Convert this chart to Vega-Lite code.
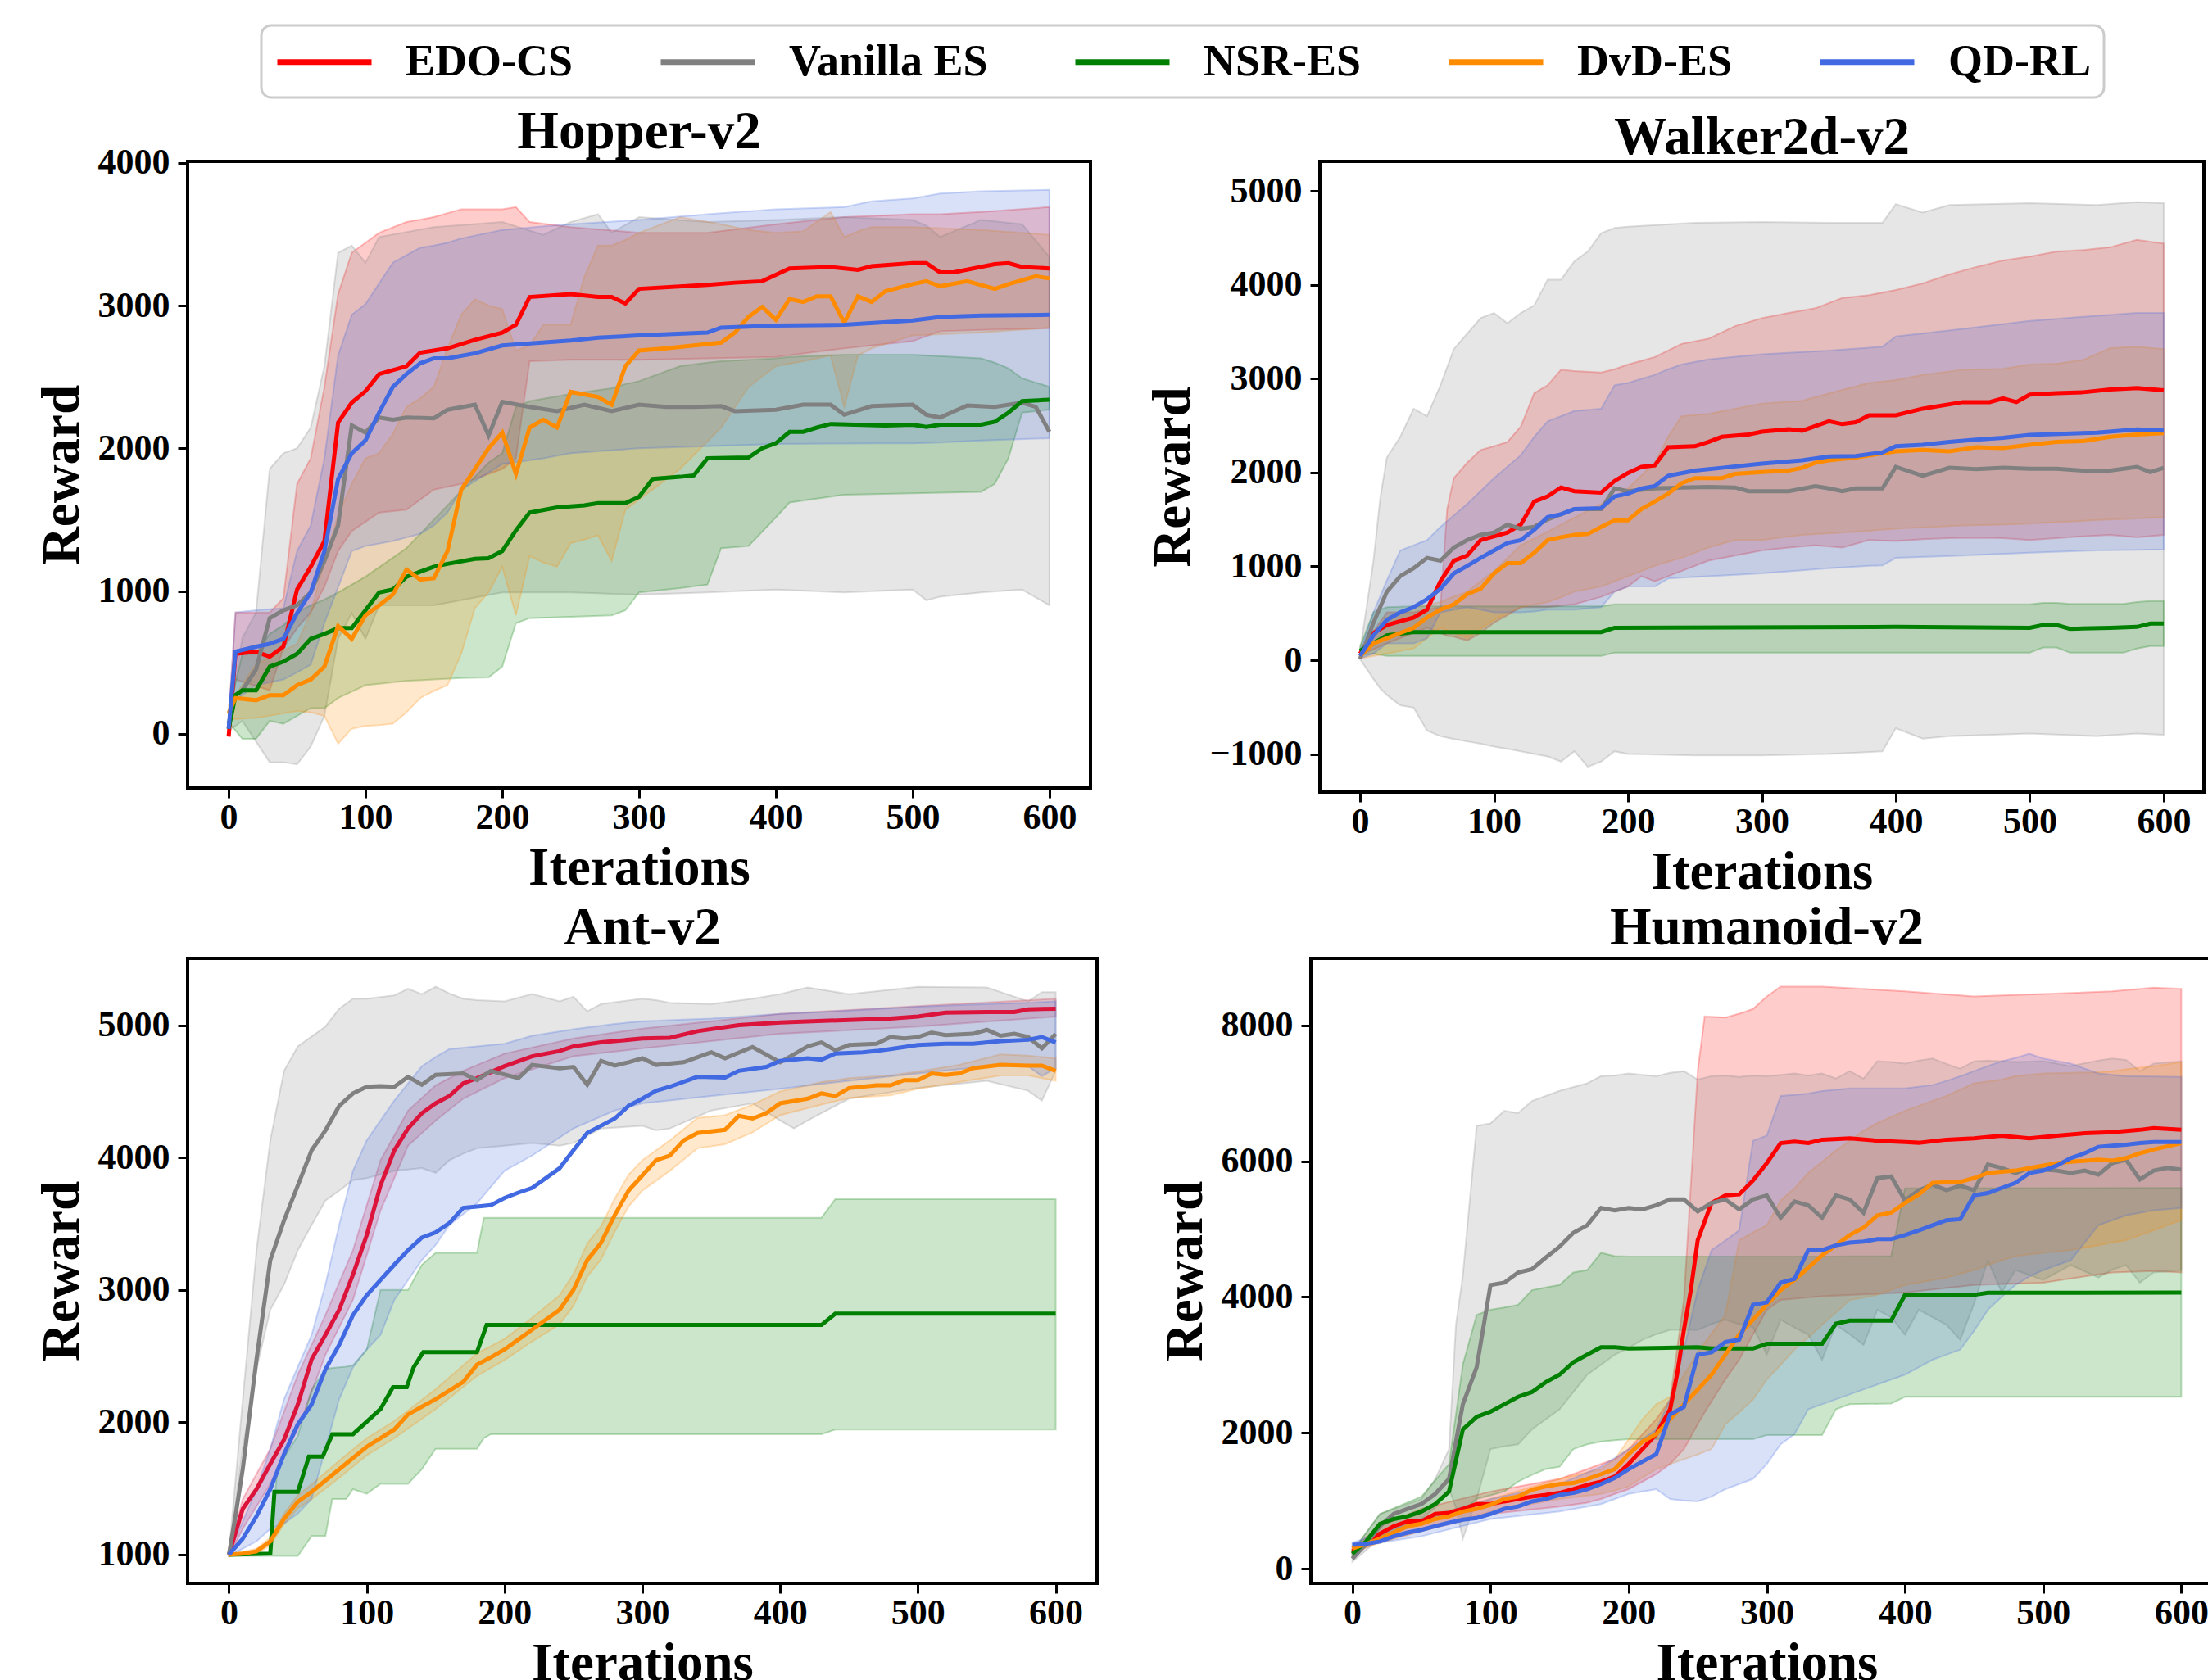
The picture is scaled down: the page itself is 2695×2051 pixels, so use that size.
{
"$schema": "https://vega.github.io/schema/vega-lite/v6.json",
"background": "white",
"padding": {"left": 41, "top": 29, "right": 0, "bottom": 0},
"config": {
 "font": "Liberation Serif",
 "view": {"stroke": "black", "strokeWidth": 4},
 "axis": {"domain": false, "grid": false, "ticks": true, "tickColor": "black", "tickWidth": 3, "tickSize": 12, "labelFont": "Liberation Serif", "labelFontSize": 44, "labelFontWeight": "bold", "labelColor": "black", "labelOverlap": false, "labelFlush": false, "titleFont": "Liberation Serif", "titleFontSize": 65, "titleFontWeight": "bold", "titleColor": "black"},
 "axisX": {"labelPadding": 2, "titlePadding": 8},
 "axisY": {"labelPadding": 10, "titlePadding": 10},
 "legend": {"strokeWidth": 3},
 "title": {"font": "Liberation Serif", "fontSize": 65, "fontWeight": "bold", "color": "black", "baseline": "bottom", "frame": "group", "anchor": "middle"}
},
"datasets": {
"hl": [
{"s":"E","x":0,"y":-20},{"s":"E","x":5,"y":560},{"s":"E","x":20,"y":575},{"s":"E","x":30,"y":540},{"s":"E","x":40,"y":610},{"s":"E","x":50,"y":1010},{"s":"E","x":60,"y":1170},{"s":"E","x":70,"y":1350},{"s":"E","x":80,"y":2180},{"s":"E","x":90,"y":2320},{"s":"E","x":100,"y":2400},{"s":"E","x":110,"y":2520},{"s":"E","x":130,"y":2575},{"s":"E","x":140,"y":2670},{"s":"E","x":160,"y":2700},{"s":"E","x":180,"y":2760},{"s":"E","x":200,"y":2810},{"s":"E","x":210,"y":2865},{"s":"E","x":220,"y":3060},{"s":"E","x":250,"y":3080},{"s":"E","x":270,"y":3060},{"s":"E","x":280,"y":3060},{"s":"E","x":290,"y":3015},{"s":"E","x":300,"y":3117},{"s":"E","x":350,"y":3145},{"s":"E","x":370,"y":3160},{"s":"E","x":390,"y":3170},{"s":"E","x":410,"y":3260},{"s":"E","x":440,"y":3270},{"s":"E","x":460,"y":3250},{"s":"E","x":470,"y":3275},{"s":"E","x":500,"y":3297},{"s":"E","x":510,"y":3297},{"s":"E","x":520,"y":3232},{"s":"E","x":530,"y":3232},{"s":"E","x":560,"y":3290},{"s":"E","x":570,"y":3297},{"s":"E","x":580,"y":3270},{"s":"E","x":600,"y":3260},
{"s":"V","x":0,"y":70},{"s":"V","x":5,"y":270},{"s":"V","x":10,"y":305},{"s":"V","x":20,"y":450},{"s":"V","x":30,"y":810},{"s":"V","x":40,"y":865},{"s":"V","x":50,"y":900},{"s":"V","x":60,"y":990},{"s":"V","x":70,"y":1210},{"s":"V","x":80,"y":1460},{"s":"V","x":90,"y":2160},{"s":"V","x":100,"y":2110},{"s":"V","x":110,"y":2215},{"s":"V","x":120,"y":2200},{"s":"V","x":130,"y":2215},{"s":"V","x":150,"y":2210},{"s":"V","x":160,"y":2270},{"s":"V","x":180,"y":2305},{"s":"V","x":190,"y":2090},{"s":"V","x":200,"y":2325},{"s":"V","x":220,"y":2290},{"s":"V","x":240,"y":2260},{"s":"V","x":260,"y":2305},{"s":"V","x":280,"y":2260},{"s":"V","x":300,"y":2305},{"s":"V","x":320,"y":2290},{"s":"V","x":340,"y":2290},{"s":"V","x":360,"y":2295},{"s":"V","x":370,"y":2260},{"s":"V","x":400,"y":2270},{"s":"V","x":420,"y":2305},{"s":"V","x":440,"y":2305},{"s":"V","x":450,"y":2235},{"s":"V","x":470,"y":2295},{"s":"V","x":500,"y":2305},{"s":"V","x":510,"y":2235},{"s":"V","x":520,"y":2215},{"s":"V","x":540,"y":2300},{"s":"V","x":560,"y":2290},{"s":"V","x":580,"y":2320},{"s":"V","x":590,"y":2290},{"s":"V","x":600,"y":2115},
{"s":"N","x":0,"y":35},{"s":"N","x":5,"y":270},{"s":"N","x":10,"y":305},{"s":"N","x":20,"y":305},{"s":"N","x":30,"y":470},{"s":"N","x":40,"y":505},{"s":"N","x":50,"y":560},{"s":"N","x":60,"y":665},{"s":"N","x":70,"y":700},{"s":"N","x":80,"y":740},{"s":"N","x":90,"y":740},{"s":"N","x":100,"y":865},{"s":"N","x":110,"y":990},{"s":"N","x":120,"y":1010},{"s":"N","x":130,"y":1100},{"s":"N","x":150,"y":1170},{"s":"N","x":160,"y":1190},{"s":"N","x":180,"y":1225},{"s":"N","x":190,"y":1230},{"s":"N","x":200,"y":1280},{"s":"N","x":210,"y":1425},{"s":"N","x":220,"y":1550},{"s":"N","x":240,"y":1585},{"s":"N","x":260,"y":1600},{"s":"N","x":270,"y":1615},{"s":"N","x":290,"y":1615},{"s":"N","x":300,"y":1660},{"s":"N","x":310,"y":1785},{"s":"N","x":330,"y":1800},{"s":"N","x":340,"y":1810},{"s":"N","x":350,"y":1930},{"s":"N","x":380,"y":1935},{"s":"N","x":390,"y":2000},{"s":"N","x":400,"y":2035},{"s":"N","x":410,"y":2115},{"s":"N","x":420,"y":2115},{"s":"N","x":430,"y":2145},{"s":"N","x":440,"y":2170},{"s":"N","x":480,"y":2160},{"s":"N","x":500,"y":2165},{"s":"N","x":510,"y":2150},{"s":"N","x":520,"y":2165},{"s":"N","x":550,"y":2165},{"s":"N","x":560,"y":2185},{"s":"N","x":570,"y":2250},{"s":"N","x":580,"y":2330},{"s":"N","x":600,"y":2340},
{"s":"D","x":0,"y":145},{"s":"D","x":5,"y":250},{"s":"D","x":20,"y":235},{"s":"D","x":30,"y":270},{"s":"D","x":40,"y":270},{"s":"D","x":50,"y":340},{"s":"D","x":60,"y":380},{"s":"D","x":70,"y":470},{"s":"D","x":80,"y":755},{"s":"D","x":90,"y":665},{"s":"D","x":100,"y":830},{"s":"D","x":110,"y":900},{"s":"D","x":120,"y":975},{"s":"D","x":130,"y":1150},{"s":"D","x":140,"y":1080},{"s":"D","x":150,"y":1090},{"s":"D","x":160,"y":1280},{"s":"D","x":170,"y":1710},{"s":"D","x":180,"y":1855},{"s":"D","x":190,"y":2000},{"s":"D","x":200,"y":2110},{"s":"D","x":210,"y":1820},{"s":"D","x":220,"y":2145},{"s":"D","x":230,"y":2200},{"s":"D","x":240,"y":2145},{"s":"D","x":250,"y":2395},{"s":"D","x":270,"y":2360},{"s":"D","x":280,"y":2305},{"s":"D","x":290,"y":2575},{"s":"D","x":300,"y":2685},{"s":"D","x":320,"y":2700},{"s":"D","x":340,"y":2720},{"s":"D","x":360,"y":2740},{"s":"D","x":370,"y":2810},{"s":"D","x":380,"y":2920},{"s":"D","x":390,"y":2990},{"s":"D","x":400,"y":2900},{"s":"D","x":410,"y":3045},{"s":"D","x":420,"y":3025},{"s":"D","x":430,"y":3065},{"s":"D","x":440,"y":3065},{"s":"D","x":450,"y":2880},{"s":"D","x":460,"y":3065},{"s":"D","x":470,"y":3025},{"s":"D","x":480,"y":3100},{"s":"D","x":500,"y":3150},{"s":"D","x":510,"y":3170},{"s":"D","x":520,"y":3135},{"s":"D","x":540,"y":3170},{"s":"D","x":560,"y":3117},{"s":"D","x":570,"y":3150},{"s":"D","x":590,"y":3205},{"s":"D","x":600,"y":3190},
{"s":"Q","x":0,"y":35},{"s":"Q","x":5,"y":575},{"s":"Q","x":20,"y":610},{"s":"Q","x":30,"y":630},{"s":"Q","x":40,"y":665},{"s":"Q","x":50,"y":845},{"s":"Q","x":60,"y":990},{"s":"Q","x":70,"y":1280},{"s":"Q","x":80,"y":1785},{"s":"Q","x":90,"y":1965},{"s":"Q","x":100,"y":2055},{"s":"Q","x":110,"y":2250},{"s":"Q","x":120,"y":2430},{"s":"Q","x":130,"y":2520},{"s":"Q","x":140,"y":2595},{"s":"Q","x":150,"y":2630},{"s":"Q","x":160,"y":2630},{"s":"Q","x":180,"y":2665},{"s":"Q","x":200,"y":2720},{"s":"Q","x":250,"y":2755},{"s":"Q","x":270,"y":2775},{"s":"Q","x":300,"y":2790},{"s":"Q","x":350,"y":2810},{"s":"Q","x":360,"y":2845},{"s":"Q","x":400,"y":2860},{"s":"Q","x":450,"y":2865},{"s":"Q","x":500,"y":2895},{"s":"Q","x":520,"y":2920},{"s":"Q","x":550,"y":2930},{"s":"Q","x":600,"y":2935}
],
"hb": [
{"s":"E","x":0,"l":-20,"h":100},{"s":"E","x":5,"l":380,"h":850},{"s":"E","x":30,"l":305,"h":850},{"s":"E","x":40,"l":600,"h":950},{"s":"E","x":50,"l":740,"h":1750},{"s":"E","x":60,"l":850,"h":1930},{"s":"E","x":70,"l":1030,"h":2430},{"s":"E","x":80,"l":1280,"h":3080},{"s":"E","x":90,"l":1420,"h":3370},{"s":"E","x":110,"l":1550,"h":3510},{"s":"E","x":130,"l":1570,"h":3585},{"s":"E","x":150,"l":1710,"h":3620},{"s":"E","x":170,"l":1750,"h":3675},{"s":"E","x":200,"l":1855,"h":3675},{"s":"E","x":210,"l":1930,"h":3690},{"s":"E","x":220,"l":2610,"h":3585},{"s":"E","x":250,"l":2620,"h":3550},{"s":"E","x":300,"l":2620,"h":3510},{"s":"E","x":350,"l":2630,"h":3510},{"s":"E","x":400,"l":2640,"h":3570},{"s":"E","x":450,"l":2700,"h":3620},{"s":"E","x":500,"l":2750,"h":3640},{"s":"E","x":520,"l":2820,"h":3640},{"s":"E","x":550,"l":2830,"h":3655},{"s":"E","x":600,"l":2840,"h":3690},
{"s":"V","x":0,"l":20,"h":100},{"s":"V","x":10,"l":90,"h":670},{"s":"V","x":20,"l":-55,"h":850},{"s":"V","x":30,"l":-200,"h":1855},{"s":"V","x":40,"l":-200,"h":1965},{"s":"V","x":50,"l":-215,"h":2000},{"s":"V","x":60,"l":-90,"h":2145},{"s":"V","x":70,"l":125,"h":2575},{"s":"V","x":80,"l":665,"h":3370},{"s":"V","x":90,"l":845,"h":3420},{"s":"V","x":100,"l":665,"h":3300},{"s":"V","x":110,"l":900,"h":3480},{"s":"V","x":150,"l":900,"h":3550},{"s":"V","x":200,"l":990,"h":3585},{"s":"V","x":230,"l":990,"h":3495},{"s":"V","x":250,"l":990,"h":3585},{"s":"V","x":270,"l":985,"h":3640},{"s":"V","x":280,"l":980,"h":3510},{"s":"V","x":300,"l":975,"h":3620},{"s":"V","x":350,"l":990,"h":3585},{"s":"V","x":400,"l":1010,"h":3600},{"s":"V","x":450,"l":990,"h":3620},{"s":"V","x":500,"l":1010,"h":3600},{"s":"V","x":510,"l":935,"h":3560},{"s":"V","x":520,"l":960,"h":3480},{"s":"V","x":550,"l":990,"h":3600},{"s":"V","x":580,"l":1010,"h":3570},{"s":"V","x":600,"l":900,"h":3340},
{"s":"N","x":0,"l":80,"h":150},{"s":"N","x":10,"l":-35,"h":560},{"s":"N","x":20,"l":-35,"h":560},{"s":"N","x":30,"l":90,"h":700},{"s":"N","x":40,"l":70,"h":760},{"s":"N","x":50,"l":125,"h":850},{"s":"N","x":60,"l":180,"h":900},{"s":"N","x":70,"l":180,"h":940},{"s":"N","x":80,"l":250,"h":990},{"s":"N","x":100,"l":340,"h":1100},{"s":"N","x":130,"l":370,"h":1300},{"s":"N","x":150,"l":380,"h":1500},{"s":"N","x":170,"l":390,"h":1700},{"s":"N","x":190,"l":395,"h":1900},{"s":"N","x":200,"l":470,"h":1965},{"s":"N","x":210,"l":775,"h":2290},{"s":"N","x":220,"l":810,"h":2330},{"s":"N","x":250,"l":820,"h":2380},{"s":"N","x":280,"l":830,"h":2420},{"s":"N","x":290,"l":865,"h":2450},{"s":"N","x":300,"l":990,"h":2470},{"s":"N","x":330,"l":1020,"h":2575},{"s":"N","x":350,"l":1045,"h":2600},{"s":"N","x":360,"l":1300,"h":2610},{"s":"N","x":380,"l":1315,"h":2620},{"s":"N","x":400,"l":1515,"h":2630},{"s":"N","x":410,"l":1620,"h":2640},{"s":"N","x":450,"l":1675,"h":2655},{"s":"N","x":500,"l":1685,"h":2655},{"s":"N","x":550,"l":1695,"h":2630},{"s":"N","x":560,"l":1750,"h":2600},{"s":"N","x":570,"l":1930,"h":2560},{"s":"N","x":580,"l":2250,"h":2490},{"s":"N","x":600,"l":2270,"h":2430},
{"s":"D","x":0,"l":100,"h":200},{"s":"D","x":20,"l":110,"h":485},{"s":"D","x":50,"l":160,"h":630},{"s":"D","x":60,"l":150,"h":850},{"s":"D","x":70,"l":125,"h":1210},{"s":"D","x":80,"l":-70,"h":1530},{"s":"D","x":90,"l":35,"h":1750},{"s":"D","x":100,"l":55,"h":1930},{"s":"D","x":110,"l":60,"h":1965},{"s":"D","x":120,"l":70,"h":2100},{"s":"D","x":130,"l":150,"h":2290},{"s":"D","x":140,"l":250,"h":2350},{"s":"D","x":150,"l":300,"h":2430},{"s":"D","x":160,"l":340,"h":2700},{"s":"D","x":170,"l":560,"h":2935},{"s":"D","x":180,"l":880,"h":3045},{"s":"D","x":190,"l":990,"h":3000},{"s":"D","x":200,"l":1170,"h":2975},{"s":"D","x":210,"l":830,"h":2685},{"s":"D","x":220,"l":1245,"h":2720},{"s":"D","x":230,"l":1200,"h":2865},{"s":"D","x":240,"l":1170,"h":2865},{"s":"D","x":250,"l":1335,"h":2865},{"s":"D","x":260,"l":1360,"h":3200},{"s":"D","x":270,"l":1390,"h":3420},{"s":"D","x":280,"l":1210,"h":3420},{"s":"D","x":290,"l":1570,"h":3460},{"s":"D","x":300,"l":1640,"h":3510},{"s":"D","x":330,"l":1855,"h":3620},{"s":"D","x":360,"l":2145,"h":3570},{"s":"D","x":380,"l":2430,"h":3530},{"s":"D","x":400,"l":2575,"h":3510},{"s":"D","x":420,"l":2610,"h":3520},{"s":"D","x":440,"l":2650,"h":3655},{"s":"D","x":450,"l":2290,"h":3480},{"s":"D","x":460,"l":2650,"h":3520},{"s":"D","x":470,"l":2700,"h":3550},{"s":"D","x":500,"l":2790,"h":3550},{"s":"D","x":550,"l":2810,"h":3530},{"s":"D","x":600,"l":2845,"h":3495},
{"s":"Q","x":0,"l":0,"h":100},{"s":"Q","x":5,"l":235,"h":850},{"s":"Q","x":20,"l":340,"h":865},{"s":"Q","x":40,"l":380,"h":880},{"s":"Q","x":50,"l":430,"h":1280},{"s":"Q","x":60,"l":485,"h":1460},{"s":"Q","x":70,"l":775,"h":1930},{"s":"Q","x":80,"l":1025,"h":2650},{"s":"Q","x":90,"l":1280,"h":2935},{"s":"Q","x":100,"l":1315,"h":3010},{"s":"Q","x":120,"l":1350,"h":3300},{"s":"Q","x":140,"l":1400,"h":3405},{"s":"Q","x":150,"l":1460,"h":3420},{"s":"Q","x":160,"l":1550,"h":3440},{"s":"Q","x":170,"l":1710,"h":3470},{"s":"Q","x":200,"l":1890,"h":3530},{"s":"Q","x":230,"l":1930,"h":3555},{"s":"Q","x":250,"l":1965,"h":3570},{"s":"Q","x":300,"l":2000,"h":3600},{"s":"Q","x":350,"l":2015,"h":3640},{"s":"Q","x":400,"l":2030,"h":3675},{"s":"Q","x":450,"l":2033,"h":3690},{"s":"Q","x":470,"l":2034,"h":3730},{"s":"Q","x":500,"l":2035,"h":3750},{"s":"Q","x":520,"l":2040,"h":3785},{"s":"Q","x":550,"l":2055,"h":3800},{"s":"Q","x":600,"l":2070,"h":3810}
],
"wl": [
{"s":"E","x":0,"y":70},{"s":"E","x":10,"y":290},{"s":"E","x":20,"y":375},{"s":"E","x":40,"y":455},{"s":"E","x":50,"y":540},{"s":"E","x":60,"y":840},{"s":"E","x":70,"y":1060},{"s":"E","x":80,"y":1115},{"s":"E","x":90,"y":1280},{"s":"E","x":110,"y":1360},{"s":"E","x":120,"y":1445},{"s":"E","x":130,"y":1690},{"s":"E","x":140,"y":1745},{"s":"E","x":150,"y":1840},{"s":"E","x":160,"y":1800},{"s":"E","x":180,"y":1785},{"s":"E","x":190,"y":1910},{"s":"E","x":200,"y":1995},{"s":"E","x":210,"y":2060},{"s":"E","x":220,"y":2075},{"s":"E","x":230,"y":2270},{"s":"E","x":250,"y":2280},{"s":"E","x":260,"y":2325},{"s":"E","x":270,"y":2380},{"s":"E","x":290,"y":2405},{"s":"E","x":300,"y":2435},{"s":"E","x":320,"y":2460},{"s":"E","x":330,"y":2445},{"s":"E","x":350,"y":2545},{"s":"E","x":360,"y":2515},{"s":"E","x":370,"y":2535},{"s":"E","x":380,"y":2610},{"s":"E","x":400,"y":2610},{"s":"E","x":420,"y":2680},{"s":"E","x":450,"y":2750},{"s":"E","x":470,"y":2750},{"s":"E","x":480,"y":2790},{"s":"E","x":490,"y":2750},{"s":"E","x":500,"y":2830},{"s":"E","x":520,"y":2845},{"s":"E","x":540,"y":2855},{"s":"E","x":560,"y":2885},{"s":"E","x":580,"y":2900},{"s":"E","x":600,"y":2875},
{"s":"V","x":0,"y":15},{"s":"V","x":10,"y":400},{"s":"V","x":20,"y":730},{"s":"V","x":30,"y":895},{"s":"V","x":40,"y":980},{"s":"V","x":50,"y":1090},{"s":"V","x":60,"y":1060},{"s":"V","x":70,"y":1200},{"s":"V","x":80,"y":1280},{"s":"V","x":90,"y":1335},{"s":"V","x":100,"y":1360},{"s":"V","x":110,"y":1445},{"s":"V","x":120,"y":1400},{"s":"V","x":130,"y":1420},{"s":"V","x":140,"y":1500},{"s":"V","x":160,"y":1610},{"s":"V","x":180,"y":1610},{"s":"V","x":190,"y":1830},{"s":"V","x":200,"y":1800},{"s":"V","x":220,"y":1830},{"s":"V","x":240,"y":1840},{"s":"V","x":260,"y":1845},{"s":"V","x":280,"y":1840},{"s":"V","x":290,"y":1800},{"s":"V","x":320,"y":1800},{"s":"V","x":340,"y":1855},{"s":"V","x":350,"y":1830},{"s":"V","x":360,"y":1800},{"s":"V","x":370,"y":1830},{"s":"V","x":390,"y":1830},{"s":"V","x":400,"y":2060},{"s":"V","x":420,"y":1965},{"s":"V","x":440,"y":2050},{"s":"V","x":460,"y":2035},{"s":"V","x":480,"y":2050},{"s":"V","x":500,"y":2040},{"s":"V","x":520,"y":2040},{"s":"V","x":540,"y":2020},{"s":"V","x":560,"y":2020},{"s":"V","x":580,"y":2060},{"s":"V","x":590,"y":2005},{"s":"V","x":600,"y":2050},
{"s":"N","x":0,"y":100},{"s":"N","x":10,"y":180},{"s":"N","x":20,"y":265},{"s":"N","x":40,"y":300},{"s":"N","x":180,"y":300},{"s":"N","x":190,"y":345},{"s":"N","x":400,"y":355},{"s":"N","x":500,"y":345},{"s":"N","x":510,"y":375},{"s":"N","x":520,"y":375},{"s":"N","x":530,"y":335},{"s":"N","x":560,"y":345},{"s":"N","x":580,"y":355},{"s":"N","x":590,"y":390},{"s":"N","x":600,"y":390},
{"s":"D","x":0,"y":45},{"s":"D","x":10,"y":180},{"s":"D","x":20,"y":235},{"s":"D","x":30,"y":290},{"s":"D","x":40,"y":345},{"s":"D","x":50,"y":455},{"s":"D","x":60,"y":540},{"s":"D","x":70,"y":595},{"s":"D","x":80,"y":705},{"s":"D","x":90,"y":760},{"s":"D","x":100,"y":925},{"s":"D","x":110,"y":1035},{"s":"D","x":120,"y":1035},{"s":"D","x":130,"y":1145},{"s":"D","x":140,"y":1280},{"s":"D","x":150,"y":1310},{"s":"D","x":160,"y":1335},{"s":"D","x":170,"y":1345},{"s":"D","x":180,"y":1420},{"s":"D","x":190,"y":1490},{"s":"D","x":200,"y":1490},{"s":"D","x":210,"y":1610},{"s":"D","x":220,"y":1690},{"s":"D","x":230,"y":1775},{"s":"D","x":240,"y":1885},{"s":"D","x":250,"y":1940},{"s":"D","x":270,"y":1940},{"s":"D","x":280,"y":1985},{"s":"D","x":300,"y":2005},{"s":"D","x":320,"y":2020},{"s":"D","x":330,"y":2050},{"s":"D","x":340,"y":2105},{"s":"D","x":350,"y":2130},{"s":"D","x":370,"y":2160},{"s":"D","x":400,"y":2225},{"s":"D","x":420,"y":2240},{"s":"D","x":440,"y":2225},{"s":"D","x":460,"y":2270},{"s":"D","x":480,"y":2260},{"s":"D","x":500,"y":2295},{"s":"D","x":520,"y":2325},{"s":"D","x":540,"y":2335},{"s":"D","x":560,"y":2380},{"s":"D","x":580,"y":2405},{"s":"D","x":600,"y":2420},
{"s":"Q","x":0,"y":45},{"s":"Q","x":10,"y":265},{"s":"Q","x":20,"y":430},{"s":"Q","x":30,"y":510},{"s":"Q","x":40,"y":565},{"s":"Q","x":50,"y":650},{"s":"Q","x":60,"y":760},{"s":"Q","x":70,"y":925},{"s":"Q","x":80,"y":1005},{"s":"Q","x":90,"y":1090},{"s":"Q","x":100,"y":1170},{"s":"Q","x":110,"y":1250},{"s":"Q","x":120,"y":1280},{"s":"Q","x":130,"y":1390},{"s":"Q","x":140,"y":1525},{"s":"Q","x":150,"y":1555},{"s":"Q","x":160,"y":1610},{"s":"Q","x":180,"y":1620},{"s":"Q","x":190,"y":1745},{"s":"Q","x":200,"y":1775},{"s":"Q","x":210,"y":1830},{"s":"Q","x":220,"y":1855},{"s":"Q","x":230,"y":1965},{"s":"Q","x":250,"y":2020},{"s":"Q","x":270,"y":2050},{"s":"Q","x":300,"y":2095},{"s":"Q","x":330,"y":2130},{"s":"Q","x":350,"y":2170},{"s":"Q","x":370,"y":2175},{"s":"Q","x":390,"y":2215},{"s":"Q","x":400,"y":2280},{"s":"Q","x":420,"y":2295},{"s":"Q","x":440,"y":2325},{"s":"Q","x":460,"y":2350},{"s":"Q","x":480,"y":2370},{"s":"Q","x":500,"y":2400},{"s":"Q","x":550,"y":2425},{"s":"Q","x":580,"y":2460},{"s":"Q","x":600,"y":2445}
],
"wb": [
{"s":"E","x":0,"l":50,"h":100},{"s":"E","x":20,"l":180,"h":510},{"s":"E","x":40,"l":290,"h":510},{"s":"E","x":50,"l":345,"h":540},{"s":"E","x":60,"l":290,"h":565},{"s":"E","x":65,"l":260,"h":1610},{"s":"E","x":70,"l":250,"h":1940},{"s":"E","x":80,"l":210,"h":2105},{"s":"E","x":90,"l":290,"h":2240},{"s":"E","x":100,"l":400,"h":2280},{"s":"E","x":110,"l":480,"h":2325},{"s":"E","x":120,"l":565,"h":2490},{"s":"E","x":130,"l":565,"h":2845},{"s":"E","x":140,"l":565,"h":2930},{"s":"E","x":150,"l":580,"h":3095},{"s":"E","x":160,"l":595,"h":3080},{"s":"E","x":180,"l":675,"h":3065},{"s":"E","x":190,"l":730,"h":3100},{"s":"E","x":200,"l":785,"h":3150},{"s":"E","x":210,"l":895,"h":3190},{"s":"E","x":220,"l":840,"h":3230},{"s":"E","x":240,"l":950,"h":3370},{"s":"E","x":260,"l":1060,"h":3425},{"s":"E","x":280,"l":1115,"h":3560},{"s":"E","x":300,"l":1170,"h":3645},{"s":"E","x":320,"l":1200,"h":3700},{"s":"E","x":340,"l":1225,"h":3750},{"s":"E","x":360,"l":1200,"h":3860},{"s":"E","x":380,"l":1280,"h":3890},{"s":"E","x":400,"l":1270,"h":3945},{"s":"E","x":420,"l":1290,"h":4015},{"s":"E","x":440,"l":1300,"h":4110},{"s":"E","x":460,"l":1305,"h":4190},{"s":"E","x":480,"l":1300,"h":4260},{"s":"E","x":500,"l":1280,"h":4300},{"s":"E","x":520,"l":1300,"h":4355},{"s":"E","x":540,"l":1320,"h":4370},{"s":"E","x":560,"l":1335,"h":4400},{"s":"E","x":580,"l":1310,"h":4480},{"s":"E","x":600,"l":1335,"h":4440},
{"s":"V","x":0,"l":10,"h":100},{"s":"V","x":10,"l":-200,"h":1060},{"s":"V","x":15,"l":-300,"h":1720},{"s":"V","x":20,"l":-370,"h":2160},{"s":"V","x":30,"l":-480,"h":2380},{"s":"V","x":40,"l":-505,"h":2680},{"s":"V","x":50,"l":-750,"h":2600},{"s":"V","x":60,"l":-810,"h":2930},{"s":"V","x":70,"l":-840,"h":3315},{"s":"V","x":80,"l":-865,"h":3480},{"s":"V","x":90,"l":-890,"h":3645},{"s":"V","x":100,"l":-920,"h":3700},{"s":"V","x":110,"l":-945,"h":3590},{"s":"V","x":120,"l":-970,"h":3700},{"s":"V","x":130,"l":-1000,"h":3780},{"s":"V","x":140,"l":-1025,"h":4055},{"s":"V","x":150,"l":-1080,"h":4055},{"s":"V","x":160,"l":-970,"h":4250},{"s":"V","x":170,"l":-1135,"h":4355},{"s":"V","x":180,"l":-1080,"h":4550},{"s":"V","x":190,"l":-970,"h":4605},{"s":"V","x":200,"l":-1000,"h":4620},{"s":"V","x":250,"l":-1015,"h":4660},{"s":"V","x":300,"l":-1015,"h":4670},{"s":"V","x":350,"l":-1000,"h":4660},{"s":"V","x":390,"l":-970,"h":4660},{"s":"V","x":400,"l":-725,"h":4860},{"s":"V","x":420,"l":-835,"h":4770},{"s":"V","x":440,"l":-810,"h":4850},{"s":"V","x":500,"l":-780,"h":4870},{"s":"V","x":550,"l":-810,"h":4850},{"s":"V","x":580,"l":-780,"h":4880},{"s":"V","x":600,"l":-795,"h":4870},
{"s":"N","x":0,"l":50,"h":150},{"s":"N","x":10,"l":70,"h":510},{"s":"N","x":20,"l":45,"h":565},{"s":"N","x":40,"l":45,"h":575},{"s":"N","x":180,"l":45,"h":575},{"s":"N","x":190,"l":80,"h":595},{"s":"N","x":500,"l":80,"h":595},{"s":"N","x":510,"l":135,"h":610},{"s":"N","x":520,"l":135,"h":610},{"s":"N","x":530,"l":80,"h":600},{"s":"N","x":570,"l":80,"h":600},{"s":"N","x":580,"l":125,"h":620},{"s":"N","x":590,"l":150,"h":630},{"s":"N","x":600,"l":150,"h":630},
{"s":"D","x":0,"l":20,"h":100},{"s":"D","x":20,"l":70,"h":455},{"s":"D","x":40,"l":125,"h":565},{"s":"D","x":60,"l":345,"h":620},{"s":"D","x":70,"l":290,"h":680},{"s":"D","x":80,"l":235,"h":730},{"s":"D","x":100,"l":430,"h":950},{"s":"D","x":120,"l":565,"h":1225},{"s":"D","x":140,"l":620,"h":1370},{"s":"D","x":150,"l":670,"h":1445},{"s":"D","x":160,"l":730,"h":1520},{"s":"D","x":180,"l":785,"h":1665},{"s":"D","x":200,"l":895,"h":1830},{"s":"D","x":220,"l":1005,"h":2105},{"s":"D","x":230,"l":1050,"h":2380},{"s":"D","x":240,"l":1090,"h":2600},{"s":"D","x":260,"l":1200,"h":2625},{"s":"D","x":280,"l":1280,"h":2680},{"s":"D","x":300,"l":1280,"h":2735},{"s":"D","x":330,"l":1335,"h":2765},{"s":"D","x":360,"l":1360,"h":2880},{"s":"D","x":380,"l":1380,"h":2955},{"s":"D","x":400,"l":1400,"h":2985},{"s":"D","x":420,"l":1415,"h":3040},{"s":"D","x":450,"l":1435,"h":3095},{"s":"D","x":480,"l":1445,"h":3105},{"s":"D","x":500,"l":1455,"h":3150},{"s":"D","x":520,"l":1470,"h":3160},{"s":"D","x":540,"l":1485,"h":3200},{"s":"D","x":560,"l":1500,"h":3325},{"s":"D","x":580,"l":1510,"h":3340},{"s":"D","x":600,"l":1525,"h":3315},
{"s":"Q","x":0,"l":20,"h":100},{"s":"Q","x":10,"l":70,"h":510},{"s":"Q","x":20,"l":180,"h":850},{"s":"Q","x":30,"l":180,"h":1170},{"s":"Q","x":40,"l":180,"h":1225},{"s":"Q","x":50,"l":235,"h":1280},{"s":"Q","x":60,"l":510,"h":1420},{"s":"Q","x":80,"l":565,"h":1665},{"s":"Q","x":100,"l":510,"h":1940},{"s":"Q","x":120,"l":510,"h":2185},{"s":"Q","x":130,"l":520,"h":2380},{"s":"Q","x":140,"l":540,"h":2545},{"s":"Q","x":160,"l":540,"h":2655},{"s":"Q","x":180,"l":565,"h":2680},{"s":"Q","x":190,"l":730,"h":2930},{"s":"Q","x":200,"l":785,"h":2955},{"s":"Q","x":220,"l":785,"h":3040},{"s":"Q","x":230,"l":870,"h":3100},{"s":"Q","x":240,"l":880,"h":3150},{"s":"Q","x":260,"l":895,"h":3205},{"s":"Q","x":300,"l":925,"h":3260},{"s":"Q","x":350,"l":980,"h":3300},{"s":"Q","x":380,"l":1005,"h":3330},{"s":"Q","x":390,"l":1010,"h":3340},{"s":"Q","x":400,"l":1090,"h":3450},{"s":"Q","x":450,"l":1115,"h":3530},{"s":"Q","x":500,"l":1145,"h":3615},{"s":"Q","x":550,"l":1170,"h":3670},{"s":"Q","x":580,"l":1175,"h":3700},{"s":"Q","x":600,"l":1180,"h":3700}
],
"al": [
{"s":"A","x":0,"y":1000},{"s":"A","x":10,"y":1345},{"s":"A","x":20,"y":1495},{"s":"A","x":30,"y":1685},{"s":"A","x":40,"y":1870},{"s":"A","x":50,"y":2135},{"s":"A","x":60,"y":2475},{"s":"A","x":70,"y":2660},{"s":"A","x":80,"y":2850},{"s":"A","x":90,"y":3115},{"s":"A","x":100,"y":3415},{"s":"A","x":110,"y":3790},{"s":"A","x":120,"y":4055},{"s":"A","x":130,"y":4220},{"s":"A","x":140,"y":4335},{"s":"A","x":150,"y":4410},{"s":"A","x":160,"y":4465},{"s":"A","x":170,"y":4560},{"s":"A","x":180,"y":4600},{"s":"A","x":200,"y":4690},{"s":"A","x":220,"y":4765},{"s":"A","x":240,"y":4805},{"s":"A","x":250,"y":4840},{"s":"A","x":270,"y":4870},{"s":"A","x":300,"y":4900},{"s":"A","x":320,"y":4905},{"s":"A","x":340,"y":4955},{"s":"A","x":370,"y":5000},{"s":"A","x":400,"y":5020},{"s":"A","x":450,"y":5040},{"s":"A","x":480,"y":5050},{"s":"A","x":500,"y":5065},{"s":"A","x":520,"y":5095},{"s":"A","x":550,"y":5100},{"s":"A","x":570,"y":5100},{"s":"A","x":580,"y":5120},{"s":"A","x":600,"y":5125},
{"s":"V","x":0,"y":1000},{"s":"V","x":5,"y":1310},{"s":"V","x":10,"y":1645},{"s":"V","x":20,"y":2475},{"s":"V","x":30,"y":3225},{"s":"V","x":40,"y":3525},{"s":"V","x":50,"y":3790},{"s":"V","x":60,"y":4055},{"s":"V","x":70,"y":4205},{"s":"V","x":80,"y":4390},{"s":"V","x":90,"y":4485},{"s":"V","x":100,"y":4535},{"s":"V","x":110,"y":4540},{"s":"V","x":120,"y":4535},{"s":"V","x":130,"y":4610},{"s":"V","x":140,"y":4550},{"s":"V","x":150,"y":4625},{"s":"V","x":170,"y":4635},{"s":"V","x":180,"y":4585},{"s":"V","x":190,"y":4655},{"s":"V","x":210,"y":4600},{"s":"V","x":220,"y":4700},{"s":"V","x":240,"y":4675},{"s":"V","x":250,"y":4685},{"s":"V","x":260,"y":4550},{"s":"V","x":270,"y":4730},{"s":"V","x":280,"y":4695},{"s":"V","x":290,"y":4720},{"s":"V","x":300,"y":4750},{"s":"V","x":310,"y":4700},{"s":"V","x":330,"y":4720},{"s":"V","x":350,"y":4795},{"s":"V","x":360,"y":4750},{"s":"V","x":380,"y":4835},{"s":"V","x":400,"y":4720},{"s":"V","x":420,"y":4840},{"s":"V","x":430,"y":4870},{"s":"V","x":440,"y":4810},{"s":"V","x":450,"y":4850},{"s":"V","x":470,"y":4860},{"s":"V","x":480,"y":4910},{"s":"V","x":490,"y":4900},{"s":"V","x":500,"y":4910},{"s":"V","x":510,"y":4945},{"s":"V","x":520,"y":4925},{"s":"V","x":540,"y":4935},{"s":"V","x":550,"y":4965},{"s":"V","x":560,"y":4920},{"s":"V","x":570,"y":4935},{"s":"V","x":580,"y":4910},{"s":"V","x":590,"y":4825},{"s":"V","x":600,"y":4935},
{"s":"N","x":0,"y":1000},{"s":"N","x":30,"y":1008},{"s":"N","x":33,"y":1475},{"s":"N","x":50,"y":1475},{"s":"N","x":58,"y":1740},{"s":"N","x":68,"y":1740},{"s":"N","x":75,"y":1910},{"s":"N","x":90,"y":1910},{"s":"N","x":100,"y":2005},{"s":"N","x":110,"y":2100},{"s":"N","x":119,"y":2265},{"s":"N","x":129,"y":2265},{"s":"N","x":134,"y":2415},{"s":"N","x":141,"y":2530},{"s":"N","x":180,"y":2530},{"s":"N","x":187,"y":2735},{"s":"N","x":430,"y":2735},{"s":"N","x":440,"y":2820},{"s":"N","x":600,"y":2820},
{"s":"D","x":0,"y":1000},{"s":"D","x":10,"y":1008},{"s":"D","x":20,"y":1025},{"s":"D","x":30,"y":1100},{"s":"D","x":40,"y":1270},{"s":"D","x":50,"y":1400},{"s":"D","x":60,"y":1475},{"s":"D","x":80,"y":1645},{"s":"D","x":100,"y":1815},{"s":"D","x":120,"y":1945},{"s":"D","x":130,"y":2060},{"s":"D","x":150,"y":2175},{"s":"D","x":170,"y":2305},{"s":"D","x":180,"y":2435},{"s":"D","x":190,"y":2490},{"s":"D","x":200,"y":2550},{"s":"D","x":210,"y":2625},{"s":"D","x":220,"y":2700},{"s":"D","x":240,"y":2850},{"s":"D","x":250,"y":3000},{"s":"D","x":260,"y":3225},{"s":"D","x":270,"y":3355},{"s":"D","x":280,"y":3565},{"s":"D","x":290,"y":3750},{"s":"D","x":300,"y":3865},{"s":"D","x":310,"y":3980},{"s":"D","x":320,"y":4015},{"s":"D","x":330,"y":4130},{"s":"D","x":340,"y":4185},{"s":"D","x":360,"y":4210},{"s":"D","x":370,"y":4315},{"s":"D","x":380,"y":4295},{"s":"D","x":390,"y":4335},{"s":"D","x":400,"y":4410},{"s":"D","x":420,"y":4445},{"s":"D","x":430,"y":4485},{"s":"D","x":440,"y":4465},{"s":"D","x":450,"y":4525},{"s":"D","x":470,"y":4545},{"s":"D","x":480,"y":4545},{"s":"D","x":490,"y":4585},{"s":"D","x":500,"y":4585},{"s":"D","x":510,"y":4635},{"s":"D","x":520,"y":4625},{"s":"D","x":530,"y":4635},{"s":"D","x":540,"y":4675},{"s":"D","x":560,"y":4700},{"s":"D","x":580,"y":4695},{"s":"D","x":590,"y":4695},{"s":"D","x":600,"y":4655},
{"s":"Q","x":0,"y":1000},{"s":"Q","x":10,"y":1120},{"s":"Q","x":20,"y":1290},{"s":"Q","x":30,"y":1495},{"s":"Q","x":40,"y":1760},{"s":"Q","x":50,"y":1985},{"s":"Q","x":60,"y":2135},{"s":"Q","x":70,"y":2400},{"s":"Q","x":80,"y":2585},{"s":"Q","x":90,"y":2810},{"s":"Q","x":100,"y":2960},{"s":"Q","x":110,"y":3075},{"s":"Q","x":120,"y":3190},{"s":"Q","x":130,"y":3300},{"s":"Q","x":140,"y":3395},{"s":"Q","x":150,"y":3435},{"s":"Q","x":160,"y":3505},{"s":"Q","x":170,"y":3620},{"s":"Q","x":180,"y":3630},{"s":"Q","x":190,"y":3640},{"s":"Q","x":200,"y":3695},{"s":"Q","x":210,"y":3735},{"s":"Q","x":220,"y":3770},{"s":"Q","x":240,"y":3920},{"s":"Q","x":250,"y":4055},{"s":"Q","x":260,"y":4185},{"s":"Q","x":270,"y":4240},{"s":"Q","x":280,"y":4295},{"s":"Q","x":290,"y":4390},{"s":"Q","x":300,"y":4445},{"s":"Q","x":310,"y":4505},{"s":"Q","x":320,"y":4535},{"s":"Q","x":340,"y":4610},{"s":"Q","x":360,"y":4605},{"s":"Q","x":370,"y":4655},{"s":"Q","x":390,"y":4685},{"s":"Q","x":400,"y":4730},{"s":"Q","x":420,"y":4750},{"s":"Q","x":430,"y":4740},{"s":"Q","x":440,"y":4785},{"s":"Q","x":460,"y":4795},{"s":"Q","x":470,"y":4805},{"s":"Q","x":480,"y":4820},{"s":"Q","x":500,"y":4850},{"s":"Q","x":520,"y":4860},{"s":"Q","x":540,"y":4860},{"s":"Q","x":560,"y":4880},{"s":"Q","x":580,"y":4890},{"s":"Q","x":590,"y":4910},{"s":"Q","x":600,"y":4870}
],
"ab": [
{"s":"A","x":0,"l":980,"h":1040},{"s":"A","x":10,"l":1195,"h":1420},{"s":"A","x":30,"l":1535,"h":1800},{"s":"A","x":50,"l":1945,"h":2360},{"s":"A","x":70,"l":2510,"h":2810},{"s":"A","x":90,"l":2925,"h":3300},{"s":"A","x":110,"l":3600,"h":3980},{"s":"A","x":130,"l":4090,"h":4355},{"s":"A","x":150,"l":4280,"h":4545},{"s":"A","x":170,"l":4445,"h":4655},{"s":"A","x":200,"l":4600,"h":4785},{"s":"A","x":250,"l":4765,"h":4900},{"s":"A","x":300,"l":4825,"h":4975},{"s":"A","x":400,"l":4935,"h":5085},{"s":"A","x":500,"l":4990,"h":5145},{"s":"A","x":600,"l":5065,"h":5200},
{"s":"V","x":0,"l":990,"h":1010},{"s":"V","x":10,"l":1800,"h":2170},{"s":"V","x":20,"l":2400,"h":3300},{"s":"V","x":30,"l":2850,"h":4130},{"s":"V","x":40,"l":3040,"h":4655},{"s":"V","x":50,"l":3300,"h":4840},{"s":"V","x":60,"l":3490,"h":4915},{"s":"V","x":70,"l":3675,"h":4990},{"s":"V","x":80,"l":3750,"h":5125},{"s":"V","x":90,"l":3830,"h":5200},{"s":"V","x":100,"l":3845,"h":5200},{"s":"V","x":120,"l":3900,"h":5225},{"s":"V","x":130,"l":3910,"h":5275},{"s":"V","x":140,"l":3920,"h":5235},{"s":"V","x":150,"l":3885,"h":5290},{"s":"V","x":160,"l":3980,"h":5240},{"s":"V","x":170,"l":4030,"h":5200},{"s":"V","x":180,"l":4070,"h":5190},{"s":"V","x":200,"l":4090,"h":5180},{"s":"V","x":220,"l":4110,"h":5235},{"s":"V","x":240,"l":4090,"h":5180},{"s":"V","x":250,"l":4110,"h":5215},{"s":"V","x":260,"l":4165,"h":5105},{"s":"V","x":270,"l":4220,"h":5160},{"s":"V","x":300,"l":4240,"h":5200},{"s":"V","x":310,"l":4205,"h":5190},{"s":"V","x":320,"l":4220,"h":5170},{"s":"V","x":350,"l":4355,"h":5160},{"s":"V","x":380,"l":4410,"h":5200},{"s":"V","x":400,"l":4280,"h":5235},{"s":"V","x":410,"l":4220,"h":5260},{"s":"V","x":420,"l":4280,"h":5285},{"s":"V","x":450,"l":4445,"h":5235},{"s":"V","x":500,"l":4525,"h":5290},{"s":"V","x":550,"l":4580,"h":5285},{"s":"V","x":580,"l":4505,"h":5180},{"s":"V","x":590,"l":4430,"h":5250},{"s":"V","x":600,"l":4655,"h":5250},
{"s":"N","x":0,"l":990,"h":1010},{"s":"N","x":30,"l":990,"h":1008},{"s":"N","x":35,"l":990,"h":1650},{"s":"N","x":50,"l":990,"h":1900},{"s":"N","x":60,"l":1140,"h":2250},{"s":"N","x":70,"l":1140,"h":2400},{"s":"N","x":75,"l":1420,"h":2410},{"s":"N","x":85,"l":1420,"h":2420},{"s":"N","x":90,"l":1495,"h":2430},{"s":"N","x":100,"l":1460,"h":2550},{"s":"N","x":110,"l":1535,"h":3000},{"s":"N","x":130,"l":1535,"h":3000},{"s":"N","x":140,"l":1645,"h":3190},{"s":"N","x":150,"l":1800,"h":3280},{"s":"N","x":180,"l":1800,"h":3280},{"s":"N","x":185,"l":1880,"h":3545},{"s":"N","x":190,"l":1910,"h":3545},{"s":"N","x":430,"l":1910,"h":3545},{"s":"N","x":440,"l":1945,"h":3685},{"s":"N","x":600,"l":1945,"h":3685},
{"s":"D","x":0,"l":990,"h":1010},{"s":"D","x":10,"l":995,"h":1020},{"s":"D","x":20,"l":1005,"h":1045},{"s":"D","x":30,"l":1070,"h":1130},{"s":"D","x":40,"l":1230,"h":1310},{"s":"D","x":50,"l":1350,"h":1450},{"s":"D","x":60,"l":1420,"h":1530},{"s":"D","x":80,"l":1580,"h":1710},{"s":"D","x":100,"l":1750,"h":1880},{"s":"D","x":120,"l":1880,"h":2010},{"s":"D","x":150,"l":2100,"h":2250},{"s":"D","x":180,"l":2350,"h":2520},{"s":"D","x":200,"l":2470,"h":2630},{"s":"D","x":220,"l":2610,"h":2790},{"s":"D","x":240,"l":2740,"h":2960},{"s":"D","x":250,"l":2880,"h":3120},{"s":"D","x":260,"l":3100,"h":3350},{"s":"D","x":270,"l":3230,"h":3480},{"s":"D","x":280,"l":3440,"h":3690},{"s":"D","x":290,"l":3630,"h":3870},{"s":"D","x":300,"l":3750,"h":3980},{"s":"D","x":320,"l":3900,"h":4130},{"s":"D","x":340,"l":4070,"h":4300},{"s":"D","x":360,"l":4100,"h":4320},{"s":"D","x":380,"l":4190,"h":4400},{"s":"D","x":400,"l":4320,"h":4500},{"s":"D","x":430,"l":4400,"h":4570},{"s":"D","x":450,"l":4450,"h":4600},{"s":"D","x":480,"l":4470,"h":4620},{"s":"D","x":500,"l":4520,"h":4650},{"s":"D","x":530,"l":4570,"h":4700},{"s":"D","x":560,"l":4620,"h":4780},{"s":"D","x":580,"l":4620,"h":4770},{"s":"D","x":600,"l":4580,"h":4750},
{"s":"Q","x":0,"l":990,"h":1020},{"s":"Q","x":10,"l":1045,"h":1250},{"s":"Q","x":20,"l":1100,"h":1495},{"s":"Q","x":30,"l":1195,"h":1800},{"s":"Q","x":40,"l":1235,"h":2175},{"s":"Q","x":50,"l":1310,"h":2420},{"s":"Q","x":60,"l":1420,"h":2660},{"s":"Q","x":70,"l":1800,"h":3040},{"s":"Q","x":80,"l":2175,"h":3490},{"s":"Q","x":90,"l":2415,"h":3900},{"s":"Q","x":100,"l":2550,"h":4130},{"s":"Q","x":110,"l":2660,"h":4280},{"s":"Q","x":120,"l":2925,"h":4430},{"s":"Q","x":140,"l":3225,"h":4690},{"s":"Q","x":150,"l":3340,"h":4760},{"s":"Q","x":160,"l":3490,"h":4820},{"s":"Q","x":180,"l":3655,"h":4840},{"s":"Q","x":200,"l":3900,"h":4860},{"s":"Q","x":220,"l":4015,"h":4920},{"s":"Q","x":250,"l":4220,"h":4970},{"s":"Q","x":280,"l":4355,"h":5010},{"s":"Q","x":300,"l":4410,"h":5030},{"s":"Q","x":350,"l":4465,"h":5050},{"s":"Q","x":400,"l":4520,"h":5085},{"s":"Q","x":450,"l":4580,"h":5110},{"s":"Q","x":500,"l":4635,"h":5140},{"s":"Q","x":550,"l":4690,"h":5160},{"s":"Q","x":580,"l":4690,"h":5170},{"s":"Q","x":590,"l":4615,"h":5175},{"s":"Q","x":600,"l":4675,"h":5180}
],
"ul": [
{"s":"E","x":0,"y":255},{"s":"E","x":10,"y":365},{"s":"E","x":20,"y":515},{"s":"E","x":30,"y":625},{"s":"E","x":40,"y":695},{"s":"E","x":50,"y":695},{"s":"E","x":60,"y":805},{"s":"E","x":70,"y":820},{"s":"E","x":80,"y":880},{"s":"E","x":90,"y":950},{"s":"E","x":100,"y":950},{"s":"E","x":110,"y":990},{"s":"E","x":120,"y":1025},{"s":"E","x":130,"y":1060},{"s":"E","x":140,"y":1085},{"s":"E","x":150,"y":1115},{"s":"E","x":160,"y":1170},{"s":"E","x":170,"y":1230},{"s":"E","x":180,"y":1280},{"s":"E","x":190,"y":1355},{"s":"E","x":200,"y":1540},{"s":"E","x":210,"y":1760},{"s":"E","x":220,"y":1980},{"s":"E","x":230,"y":2345},{"s":"E","x":235,"y":2855},{"s":"E","x":240,"y":3515},{"s":"E","x":245,"y":4100},{"s":"E","x":250,"y":4835},{"s":"E","x":260,"y":5385},{"s":"E","x":270,"y":5495},{"s":"E","x":280,"y":5510},{"s":"E","x":290,"y":5715},{"s":"E","x":300,"y":5970},{"s":"E","x":310,"y":6265},{"s":"E","x":320,"y":6285},{"s":"E","x":330,"y":6265},{"s":"E","x":340,"y":6315},{"s":"E","x":360,"y":6335},{"s":"E","x":380,"y":6300},{"s":"E","x":400,"y":6280},{"s":"E","x":410,"y":6270},{"s":"E","x":430,"y":6315},{"s":"E","x":450,"y":6335},{"s":"E","x":470,"y":6375},{"s":"E","x":490,"y":6335},{"s":"E","x":510,"y":6375},{"s":"E","x":530,"y":6410},{"s":"E","x":550,"y":6425},{"s":"E","x":570,"y":6460},{"s":"E","x":580,"y":6485},{"s":"E","x":600,"y":6460},
{"s":"V","x":0,"y":145},{"s":"V","x":10,"y":365},{"s":"V","x":20,"y":625},{"s":"V","x":30,"y":805},{"s":"V","x":40,"y":880},{"s":"V","x":50,"y":950},{"s":"V","x":60,"y":1100},{"s":"V","x":70,"y":1320},{"s":"V","x":80,"y":2420},{"s":"V","x":90,"y":2965},{"s":"V","x":100,"y":4175},{"s":"V","x":110,"y":4210},{"s":"V","x":120,"y":4360},{"s":"V","x":130,"y":4410},{"s":"V","x":140,"y":4580},{"s":"V","x":150,"y":4740},{"s":"V","x":160,"y":4945},{"s":"V","x":170,"y":5055},{"s":"V","x":180,"y":5310},{"s":"V","x":190,"y":5275},{"s":"V","x":200,"y":5310},{"s":"V","x":210,"y":5290},{"s":"V","x":220,"y":5350},{"s":"V","x":230,"y":5435},{"s":"V","x":240,"y":5435},{"s":"V","x":250,"y":5260},{"s":"V","x":260,"y":5385},{"s":"V","x":270,"y":5435},{"s":"V","x":280,"y":5290},{"s":"V","x":290,"y":5435},{"s":"V","x":300,"y":5495},{"s":"V","x":310,"y":5165},{"s":"V","x":320,"y":5405},{"s":"V","x":330,"y":5350},{"s":"V","x":340,"y":5165},{"s":"V","x":350,"y":5495},{"s":"V","x":360,"y":5435},{"s":"V","x":370,"y":5240},{"s":"V","x":380,"y":5750},{"s":"V","x":390,"y":5775},{"s":"V","x":400,"y":5420},{"s":"V","x":410,"y":5570},{"s":"V","x":420,"y":5655},{"s":"V","x":430,"y":5570},{"s":"V","x":440,"y":5640},{"s":"V","x":450,"y":5570},{"s":"V","x":460,"y":5950},{"s":"V","x":470,"y":5900},{"s":"V","x":480,"y":5825},{"s":"V","x":490,"y":5900},{"s":"V","x":500,"y":5875},{"s":"V","x":510,"y":5860},{"s":"V","x":520,"y":5825},{"s":"V","x":530,"y":5860},{"s":"V","x":540,"y":5800},{"s":"V","x":550,"y":5970},{"s":"V","x":560,"y":6020},{"s":"V","x":570,"y":5730},{"s":"V","x":580,"y":5860},{"s":"V","x":590,"y":5900},{"s":"V","x":600,"y":5875},
{"s":"N","x":0,"y":220},{"s":"N","x":10,"y":400},{"s":"N","x":20,"y":660},{"s":"N","x":30,"y":730},{"s":"N","x":40,"y":770},{"s":"N","x":50,"y":840},{"s":"N","x":60,"y":950},{"s":"N","x":70,"y":1135},{"s":"N","x":80,"y":2050},{"s":"N","x":90,"y":2235},{"s":"N","x":100,"y":2310},{"s":"N","x":110,"y":2420},{"s":"N","x":120,"y":2530},{"s":"N","x":130,"y":2600},{"s":"N","x":140,"y":2745},{"s":"N","x":150,"y":2855},{"s":"N","x":160,"y":3040},{"s":"N","x":170,"y":3150},{"s":"N","x":180,"y":3260},{"s":"N","x":190,"y":3260},{"s":"N","x":200,"y":3240},{"s":"N","x":250,"y":3260},{"s":"N","x":260,"y":3240},{"s":"N","x":290,"y":3240},{"s":"N","x":300,"y":3310},{"s":"N","x":340,"y":3310},{"s":"N","x":350,"y":3605},{"s":"N","x":360,"y":3650},{"s":"N","x":390,"y":3650},{"s":"N","x":400,"y":4030},{"s":"N","x":450,"y":4030},{"s":"N","x":460,"y":4060},{"s":"N","x":600,"y":4065},
{"s":"D","x":0,"y":295},{"s":"D","x":10,"y":365},{"s":"D","x":20,"y":440},{"s":"D","x":30,"y":530},{"s":"D","x":40,"y":625},{"s":"D","x":50,"y":660},{"s":"D","x":60,"y":730},{"s":"D","x":70,"y":770},{"s":"D","x":80,"y":840},{"s":"D","x":90,"y":880},{"s":"D","x":100,"y":940},{"s":"D","x":110,"y":1025},{"s":"D","x":120,"y":1060},{"s":"D","x":130,"y":1160},{"s":"D","x":140,"y":1210},{"s":"D","x":150,"y":1245},{"s":"D","x":160,"y":1260},{"s":"D","x":170,"y":1320},{"s":"D","x":180,"y":1390},{"s":"D","x":190,"y":1465},{"s":"D","x":200,"y":1685},{"s":"D","x":210,"y":1870},{"s":"D","x":220,"y":1980},{"s":"D","x":230,"y":2200},{"s":"D","x":240,"y":2420},{"s":"D","x":250,"y":2635},{"s":"D","x":260,"y":2855},{"s":"D","x":270,"y":3150},{"s":"D","x":280,"y":3445},{"s":"D","x":290,"y":3665},{"s":"D","x":300,"y":3885},{"s":"D","x":310,"y":4100},{"s":"D","x":320,"y":4250},{"s":"D","x":330,"y":4430},{"s":"D","x":340,"y":4615},{"s":"D","x":350,"y":4760},{"s":"D","x":360,"y":4910},{"s":"D","x":370,"y":5020},{"s":"D","x":380,"y":5200},{"s":"D","x":390,"y":5240},{"s":"D","x":400,"y":5385},{"s":"D","x":410,"y":5510},{"s":"D","x":420,"y":5680},{"s":"D","x":440,"y":5695},{"s":"D","x":450,"y":5750},{"s":"D","x":460,"y":5825},{"s":"D","x":480,"y":5860},{"s":"D","x":500,"y":5935},{"s":"D","x":510,"y":5970},{"s":"D","x":520,"y":5990},{"s":"D","x":540,"y":6020},{"s":"D","x":550,"y":6005},{"s":"D","x":560,"y":6045},{"s":"D","x":570,"y":6115},{"s":"D","x":580,"y":6170},{"s":"D","x":600,"y":6265},
{"s":"Q","x":0,"y":350},{"s":"Q","x":10,"y":365},{"s":"Q","x":20,"y":400},{"s":"Q","x":30,"y":475},{"s":"Q","x":40,"y":530},{"s":"Q","x":50,"y":570},{"s":"Q","x":60,"y":625},{"s":"Q","x":70,"y":675},{"s":"Q","x":80,"y":720},{"s":"Q","x":90,"y":745},{"s":"Q","x":100,"y":805},{"s":"Q","x":110,"y":880},{"s":"Q","x":120,"y":915},{"s":"Q","x":130,"y":990},{"s":"Q","x":140,"y":1025},{"s":"Q","x":150,"y":1085},{"s":"Q","x":160,"y":1115},{"s":"Q","x":170,"y":1170},{"s":"Q","x":180,"y":1245},{"s":"Q","x":190,"y":1335},{"s":"Q","x":200,"y":1465},{"s":"Q","x":210,"y":1575},{"s":"Q","x":220,"y":1685},{"s":"Q","x":230,"y":2270},{"s":"Q","x":240,"y":2380},{"s":"Q","x":250,"y":3150},{"s":"Q","x":260,"y":3185},{"s":"Q","x":270,"y":3335},{"s":"Q","x":280,"y":3370},{"s":"Q","x":290,"y":3885},{"s":"Q","x":300,"y":3920},{"s":"Q","x":310,"y":4210},{"s":"Q","x":320,"y":4265},{"s":"Q","x":330,"y":4690},{"s":"Q","x":340,"y":4690},{"s":"Q","x":350,"y":4760},{"s":"Q","x":360,"y":4800},{"s":"Q","x":370,"y":4815},{"s":"Q","x":380,"y":4850},{"s":"Q","x":390,"y":4850},{"s":"Q","x":400,"y":4910},{"s":"Q","x":410,"y":4980},{"s":"Q","x":420,"y":5055},{"s":"Q","x":430,"y":5130},{"s":"Q","x":440,"y":5145},{"s":"Q","x":450,"y":5495},{"s":"Q","x":460,"y":5530},{"s":"Q","x":470,"y":5605},{"s":"Q","x":480,"y":5680},{"s":"Q","x":490,"y":5825},{"s":"Q","x":500,"y":5860},{"s":"Q","x":510,"y":5935},{"s":"Q","x":520,"y":6045},{"s":"Q","x":530,"y":6115},{"s":"Q","x":540,"y":6210},{"s":"Q","x":550,"y":6225},{"s":"Q","x":560,"y":6240},{"s":"Q","x":570,"y":6265},{"s":"Q","x":580,"y":6280},{"s":"Q","x":600,"y":6280}
],
"ub": [
{"s":"E","x":0,"l":220,"h":300},{"s":"E","x":20,"l":400,"h":625},{"s":"E","x":50,"l":550,"h":880},{"s":"E","x":100,"l":805,"h":1135},{"s":"E","x":150,"l":915,"h":1320},{"s":"E","x":170,"l":970,"h":1465},{"s":"E","x":180,"l":1025,"h":1540},{"s":"E","x":190,"l":1100,"h":1610},{"s":"E","x":200,"l":1170,"h":1760},{"s":"E","x":220,"l":1390,"h":2200},{"s":"E","x":230,"l":1540,"h":2490},{"s":"E","x":240,"l":1760,"h":3955},{"s":"E","x":250,"l":2125,"h":7325},{"s":"E","x":255,"l":2300,"h":8130},{"s":"E","x":270,"l":2785,"h":8115},{"s":"E","x":280,"l":3075,"h":8170},{"s":"E","x":290,"l":3445,"h":8240},{"s":"E","x":300,"l":3810,"h":8425},{"s":"E","x":310,"l":3955,"h":8570},{"s":"E","x":340,"l":4010,"h":8570},{"s":"E","x":400,"l":4065,"h":8500},{"s":"E","x":450,"l":4175,"h":8425},{"s":"E","x":500,"l":4210,"h":8460},{"s":"E","x":550,"l":4360,"h":8500},{"s":"E","x":580,"l":4380,"h":8555},{"s":"E","x":600,"l":4360,"h":8535},
{"s":"V","x":0,"l":100,"h":250},{"s":"V","x":20,"l":440,"h":805},{"s":"V","x":50,"l":730,"h":1025},{"s":"V","x":60,"l":900,"h":1320},{"s":"V","x":70,"l":1170,"h":1760},{"s":"V","x":75,"l":900,"h":3590},{"s":"V","x":80,"l":440,"h":4320},{"s":"V","x":90,"l":1025,"h":6520},{"s":"V","x":100,"l":1760,"h":6555},{"s":"V","x":110,"l":1800,"h":6740},{"s":"V","x":120,"l":1830,"h":6705},{"s":"V","x":130,"l":2050,"h":6885},{"s":"V","x":150,"l":2345,"h":7035},{"s":"V","x":170,"l":2855,"h":7145},{"s":"V","x":180,"l":3000,"h":7250},{"s":"V","x":190,"l":3150,"h":7260},{"s":"V","x":200,"l":3250,"h":7290},{"s":"V","x":210,"l":3370,"h":7270},{"s":"V","x":220,"l":3450,"h":7250},{"s":"V","x":230,"l":3515,"h":7300},{"s":"V","x":240,"l":3515,"h":7325},{"s":"V","x":250,"l":3515,"h":7200},{"s":"V","x":260,"l":3600,"h":7250},{"s":"V","x":270,"l":3665,"h":7260},{"s":"V","x":280,"l":3600,"h":7240},{"s":"V","x":290,"l":3555,"h":7260},{"s":"V","x":300,"l":3150,"h":7250},{"s":"V","x":310,"l":3665,"h":7270},{"s":"V","x":320,"l":3550,"h":7290},{"s":"V","x":330,"l":3445,"h":7260},{"s":"V","x":340,"l":3075,"h":7290},{"s":"V","x":350,"l":3590,"h":7215},{"s":"V","x":360,"l":3450,"h":7325},{"s":"V","x":370,"l":3295,"h":7215},{"s":"V","x":380,"l":3810,"h":7470},{"s":"V","x":390,"l":3700,"h":7460},{"s":"V","x":400,"l":3445,"h":7435},{"s":"V","x":410,"l":3810,"h":7480},{"s":"V","x":420,"l":3700,"h":7510},{"s":"V","x":430,"l":3590,"h":7430},{"s":"V","x":440,"l":3370,"h":7360},{"s":"V","x":450,"l":3900,"h":7470},{"s":"V","x":460,"l":4540,"h":7480},{"s":"V","x":470,"l":4065,"h":7470},{"s":"V","x":480,"l":4395,"h":7460},{"s":"V","x":500,"l":4250,"h":7470},{"s":"V","x":520,"l":4470,"h":7400},{"s":"V","x":540,"l":4285,"h":7480},{"s":"V","x":550,"l":4400,"h":7510},{"s":"V","x":560,"l":4470,"h":7490},{"s":"V","x":570,"l":4210,"h":7325},{"s":"V","x":580,"l":4360,"h":7435},{"s":"V","x":600,"l":4395,"h":7470},
{"s":"N","x":0,"l":180,"h":250},{"s":"N","x":20,"l":475,"h":805},{"s":"N","x":50,"l":660,"h":1060},{"s":"N","x":70,"l":805,"h":1540},{"s":"N","x":80,"l":840,"h":3005},{"s":"N","x":90,"l":1025,"h":3735},{"s":"N","x":100,"l":1080,"h":3810},{"s":"N","x":110,"l":1135,"h":3845},{"s":"N","x":120,"l":1280,"h":3885},{"s":"N","x":130,"l":1380,"h":4100},{"s":"N","x":140,"l":1465,"h":4140},{"s":"N","x":150,"l":1500,"h":4175},{"s":"N","x":160,"l":1760,"h":4360},{"s":"N","x":170,"l":1830,"h":4395},{"s":"N","x":180,"l":1870,"h":4650},{"s":"N","x":190,"l":1890,"h":4600},{"s":"N","x":200,"l":1905,"h":4595},{"s":"N","x":290,"l":1905,"h":4595},{"s":"N","x":300,"l":1965,"h":4595},{"s":"N","x":340,"l":1965,"h":4595},{"s":"N","x":350,"l":2345,"h":4595},{"s":"N","x":360,"l":2420,"h":4598},{"s":"N","x":390,"l":2430,"h":4600},{"s":"N","x":400,"l":2530,"h":5600},{"s":"N","x":600,"l":2530,"h":5605},
{"s":"D","x":0,"l":260,"h":330},{"s":"D","x":50,"l":550,"h":730},{"s":"D","x":100,"l":840,"h":1025},{"s":"D","x":150,"l":1025,"h":1320},{"s":"D","x":180,"l":1100,"h":1465},{"s":"D","x":190,"l":1150,"h":1610},{"s":"D","x":200,"l":1210,"h":1905},{"s":"D","x":210,"l":1340,"h":2200},{"s":"D","x":220,"l":1465,"h":2420},{"s":"D","x":230,"l":1540,"h":2530},{"s":"D","x":240,"l":1610,"h":2850},{"s":"D","x":250,"l":1680,"h":3185},{"s":"D","x":260,"l":1760,"h":3460},{"s":"D","x":270,"l":2125,"h":3735},{"s":"D","x":280,"l":2300,"h":4835},{"s":"D","x":290,"l":2490,"h":4950},{"s":"D","x":300,"l":2785,"h":5055},{"s":"D","x":310,"l":3000,"h":5420},{"s":"D","x":320,"l":3225,"h":5600},{"s":"D","x":330,"l":3400,"h":5825},{"s":"D","x":340,"l":3590,"h":5990},{"s":"D","x":350,"l":3770,"h":6155},{"s":"D","x":360,"l":3955,"h":6300},{"s":"D","x":370,"l":3990,"h":6445},{"s":"D","x":380,"l":4030,"h":6560},{"s":"D","x":400,"l":4175,"h":6740},{"s":"D","x":430,"l":4285,"h":6960},{"s":"D","x":450,"l":4395,"h":7145},{"s":"D","x":470,"l":4540,"h":7200},{"s":"D","x":480,"l":4600,"h":7250},{"s":"D","x":500,"l":4650,"h":7290},{"s":"D","x":520,"l":4690,"h":7300},{"s":"D","x":540,"l":4760,"h":7310},{"s":"D","x":550,"l":4800,"h":7325},{"s":"D","x":560,"l":4835,"h":7350},{"s":"D","x":580,"l":4980,"h":7400},{"s":"D","x":600,"l":5130,"h":7455},
{"s":"Q","x":0,"l":320,"h":380},{"s":"Q","x":50,"l":475,"h":730},{"s":"Q","x":100,"l":730,"h":1025},{"s":"Q","x":150,"l":840,"h":1245},{"s":"Q","x":180,"l":950,"h":1500},{"s":"Q","x":200,"l":1100,"h":1760},{"s":"Q","x":220,"l":1170,"h":2050},{"s":"Q","x":230,"l":1025,"h":2490},{"s":"Q","x":240,"l":1000,"h":3225},{"s":"Q","x":250,"l":990,"h":4100},{"s":"Q","x":260,"l":1060,"h":4690},{"s":"Q","x":270,"l":1170,"h":4830},{"s":"Q","x":280,"l":1245,"h":4980},{"s":"Q","x":290,"l":1320,"h":6300},{"s":"Q","x":300,"l":1540,"h":6375},{"s":"Q","x":310,"l":1830,"h":6960},{"s":"Q","x":320,"l":1980,"h":6975},{"s":"Q","x":330,"l":2345,"h":6995},{"s":"Q","x":340,"l":2420,"h":7030},{"s":"Q","x":360,"l":2565,"h":7070},{"s":"Q","x":380,"l":2710,"h":7070},{"s":"Q","x":400,"l":2855,"h":7070},{"s":"Q","x":420,"l":3075,"h":7120},{"s":"Q","x":430,"l":3150,"h":7180},{"s":"Q","x":440,"l":3225,"h":7250},{"s":"Q","x":450,"l":3500,"h":7325},{"s":"Q","x":460,"l":3810,"h":7400},{"s":"Q","x":470,"l":4000,"h":7470},{"s":"Q","x":480,"l":4175,"h":7520},{"s":"Q","x":490,"l":4300,"h":7580},{"s":"Q","x":500,"l":4395,"h":7510},{"s":"Q","x":520,"l":4540,"h":7435},{"s":"Q","x":540,"l":5055,"h":7290},{"s":"Q","x":560,"l":5200,"h":7250},{"s":"Q","x":580,"l":5275,"h":7245},{"s":"Q","x":600,"l":5310,"h":7240}
]
},
"spacing": 0,
"vconcat": [
 {"spacing": 64, "hconcat": [
  {"width": 1102, "height": 765, "title": {"text": "Hopper-v2", "offset": -18},
   "layer": [
    {"data": {"name": "hb"}, "mark": {"type": "area", "fillOpacity": 0.2, "strokeOpacity": 0.25, "strokeWidth": 2},
     "encoding": {
      "x": {"field": "x", "type": "quantitative", "scale": {"domain": [-30, 630], "nice": false, "zero": false}, "axis": {"values": [0,100,200,300,400,500,600], "format": "d", "title": "Iterations"}},
      "y": {"field": "l", "type": "quantitative", "scale": {"domain": [-380, 4010], "nice": false, "zero": false}, "axis": {"values": [0,1000,2000,3000,4000], "format": "d", "title": "Reward"}},
      "y2": {"field": "h"},
      "fill": {"field": "s", "type": "nominal", "scale": {"domain": ["E","V","N","D","Q","A","Z"], "range": ["#ff0000","#808080","#008000","#ff8c00","#4169e1","#dc143c","#000000"]}, "legend": null},
      "stroke": {"field": "s", "type": "nominal", "scale": {"domain": ["E","V","N","D","Q","A","Z"], "range": ["#ff0000","#808080","#008000","#ff8c00","#4169e1","#dc143c","#000000"]}, "legend": null}
     }},
    {"data": {"name": "hl"}, "mark": {"type": "line", "strokeWidth": 5},
     "encoding": {
      "x": {"field": "x", "type": "quantitative", "scale": {"domain": [-30, 630], "nice": false, "zero": false}, "axis": {"values": [0,100,200,300,400,500,600], "format": "d", "title": "Iterations"}},
      "y": {"field": "y", "type": "quantitative", "scale": {"domain": [-380, 4010], "nice": false, "zero": false}, "axis": {"values": [0,1000,2000,3000,4000], "format": "d", "title": "Reward"}},
      "color": {"field": "s", "type": "nominal", "scale": {"domain": ["E","V","N","D","Q","A"], "range": ["#ff0000","#808080","#008000","#ff8c00","#4169e1","#dc143c"]},
       "legend": {"orient": "none", "legendX": 90, "legendY": -166, "direction": "horizontal", "columns": 5, "title": null, "values": ["E","V","N","D","Q"],
        "labelExpr": "datum.label === 'E' ? 'EDO-CS' : datum.label === 'V' ? 'Vanilla ES' : datum.label === 'N' ? 'NSR-ES' : datum.label === 'D' ? 'DvD-ES' : 'QD-RL'",
        "symbolType": "M-1,0H3.6", "symbolSize": 2500, "symbolStrokeWidth": 7, "labelFont": "Liberation Serif", "labelFontSize": 54, "labelFontWeight": "bold", "labelColor": "black", "labelLimit": 1000, "labelOffset": 103, "columnPadding": 92, "padding": 16, "strokeColor": "#cccccc", "cornerRadius": 12, "fillColor": "white"}}
     }}
   ]},
  {"width": 1079, "height": 770, "title": {"text": "Walker2d-v2", "offset": -5},
   "layer": [
    {"data": {"name": "wb"}, "mark": {"type": "area", "fillOpacity": 0.2, "strokeOpacity": 0.25, "strokeWidth": 2},
     "encoding": {
      "x": {"field": "x", "type": "quantitative", "scale": {"domain": [-30, 630], "nice": false, "zero": false}, "axis": {"values": [0,100,200,300,400,500,600], "format": "d", "title": "Iterations"}},
      "y": {"field": "l", "type": "quantitative", "scale": {"domain": [-1405, 5315], "nice": false, "zero": false}, "axis": {"values": [-1000,0,1000,2000,3000,4000,5000], "format": "d", "title": "Reward"}},
      "y2": {"field": "h"},
      "fill": {"field": "s", "type": "nominal", "scale": {"domain": ["E","V","N","D","Q","A","Z"], "range": ["#ff0000","#808080","#008000","#ff8c00","#4169e1","#dc143c","#000000"]}, "legend": null},
      "stroke": {"field": "s", "type": "nominal", "scale": {"domain": ["E","V","N","D","Q","A","Z"], "range": ["#ff0000","#808080","#008000","#ff8c00","#4169e1","#dc143c","#000000"]}, "legend": null}
     }},
    {"data": {"name": "wl"}, "mark": {"type": "line", "strokeWidth": 5},
     "encoding": {
      "x": {"field": "x", "type": "quantitative", "scale": {"domain": [-30, 630], "nice": false, "zero": false}, "axis": {"values": [0,100,200,300,400,500,600], "format": "d", "title": "Iterations"}},
      "y": {"field": "y", "type": "quantitative", "scale": {"domain": [-1405, 5315], "nice": false, "zero": false}, "axis": {"values": [-1000,0,1000,2000,3000,4000,5000], "format": "d", "title": "Reward"}},
      "color": {"field": "s", "type": "nominal", "scale": {"domain": ["E","V","N","D","Q","A"], "range": ["#ff0000","#808080","#008000","#ff8c00","#4169e1","#dc143c"]}}
     }}
   ]}
 ]},
 {"spacing": 71, "hconcat": [
  {"width": 1110, "height": 763, "title": {"text": "Ant-v2", "offset": 3},
   "layer": [
    {"data": {"name": "ab"}, "mark": {"type": "area", "fillOpacity": 0.2, "strokeOpacity": 0.25, "strokeWidth": 2},
     "encoding": {
      "x": {"field": "x", "type": "quantitative", "scale": {"domain": [-30, 630], "nice": false, "zero": false}, "axis": {"values": [0,100,200,300,400,500,600], "format": "d", "title": "Iterations"}},
      "y": {"field": "l", "type": "quantitative", "scale": {"domain": [783, 5505], "nice": false, "zero": false}, "axis": {"values": [1000,2000,3000,4000,5000], "format": "d", "title": "Reward"}},
      "y2": {"field": "h"},
      "fill": {"field": "s", "type": "nominal", "scale": {"domain": ["E","V","N","D","Q","A","Z"], "range": ["#ff0000","#808080","#008000","#ff8c00","#4169e1","#dc143c","#000000"]}, "legend": null},
      "stroke": {"field": "s", "type": "nominal", "scale": {"domain": ["E","V","N","D","Q","A","Z"], "range": ["#ff0000","#808080","#008000","#ff8c00","#4169e1","#dc143c","#000000"]}, "legend": null}
     }},
    {"data": {"name": "al"}, "mark": {"type": "line", "strokeWidth": 5},
     "encoding": {
      "x": {"field": "x", "type": "quantitative", "scale": {"domain": [-30, 630], "nice": false, "zero": false}, "axis": {"values": [0,100,200,300,400,500,600], "format": "d", "title": "Iterations"}},
      "y": {"field": "y", "type": "quantitative", "scale": {"domain": [783, 5505], "nice": false, "zero": false}, "axis": {"values": [1000,2000,3000,4000,5000], "format": "d", "title": "Reward"}},
      "color": {"field": "s", "type": "nominal", "scale": {"domain": ["E","V","N","D","Q","A"], "range": ["#ff0000","#808080","#008000","#ff8c00","#4169e1","#dc143c"]}}
     }}
   ]},
  {"width": 1113, "height": 763, "title": {"text": "Humanoid-v2", "offset": 3},
   "layer": [
    {"data": {"name": "ub"}, "mark": {"type": "area", "fillOpacity": 0.2, "strokeOpacity": 0.25, "strokeWidth": 2},
     "encoding": {
      "x": {"field": "x", "type": "quantitative", "scale": {"domain": [-30, 630], "nice": false, "zero": false}, "axis": {"values": [0,100,200,300,400,500,600], "format": "d", "title": "Iterations"}},
      "y": {"field": "l", "type": "quantitative", "scale": {"domain": [-217, 8985], "nice": false, "zero": false}, "axis": {"values": [0,2000,4000,6000,8000], "format": "d", "title": "Reward"}},
      "y2": {"field": "h"},
      "fill": {"field": "s", "type": "nominal", "scale": {"domain": ["E","V","N","D","Q","A","Z"], "range": ["#ff0000","#808080","#008000","#ff8c00","#4169e1","#dc143c","#000000"]}, "legend": null},
      "stroke": {"field": "s", "type": "nominal", "scale": {"domain": ["E","V","N","D","Q","A","Z"], "range": ["#ff0000","#808080","#008000","#ff8c00","#4169e1","#dc143c","#000000"]}, "legend": null}
     }},
    {"data": {"name": "ul"}, "mark": {"type": "line", "strokeWidth": 5},
     "encoding": {
      "x": {"field": "x", "type": "quantitative", "scale": {"domain": [-30, 630], "nice": false, "zero": false}, "axis": {"values": [0,100,200,300,400,500,600], "format": "d", "title": "Iterations"}},
      "y": {"field": "y", "type": "quantitative", "scale": {"domain": [-217, 8985], "nice": false, "zero": false}, "axis": {"values": [0,2000,4000,6000,8000], "format": "d", "title": "Reward"}},
      "color": {"field": "s", "type": "nominal", "scale": {"domain": ["E","V","N","D","Q","A"], "range": ["#ff0000","#808080","#008000","#ff8c00","#4169e1","#dc143c"]}}
     }}
   ]}
 ]}
]
}
